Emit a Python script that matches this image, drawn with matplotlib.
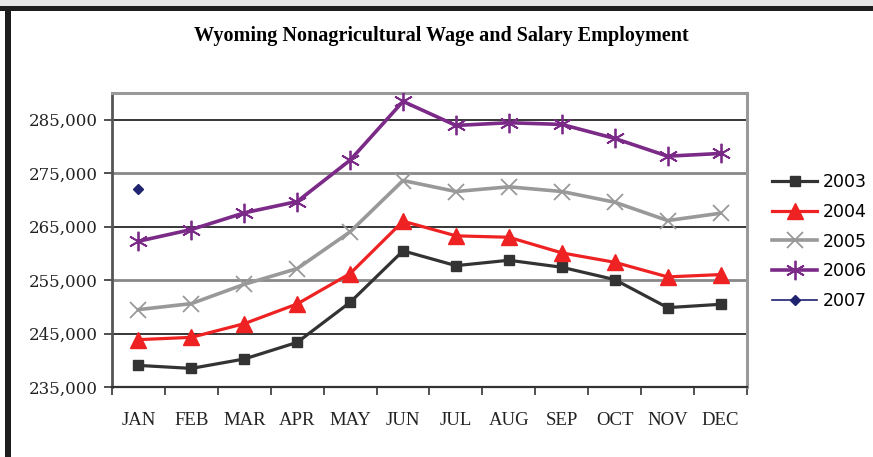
import numpy as np
import matplotlib
matplotlib.use('Agg')
import matplotlib.pyplot as plt
from matplotlib.patches import Rectangle

months = ['JAN', 'FEB', 'MAR', 'APR', 'MAY', 'JUN', 'JUL', 'AUG', 'SEP', 'OCT', 'NOV', 'DEC']
y2003 = [239040, 238480, 240240, 243350, 250840, 260470, 257700, 258710, 257400, 255090, 249850, 250470]
y2004 = [243860, 244290, 246850, 250540, 256220, 266010, 263280, 263010, 260090, 258330, 255600, 256030]
y2005 = [249480, 250600, 254210, 257150, 264030, 273630, 271570, 272450, 271570, 269570, 266140, 267510]
y2006 = [262270, 264460, 267580, 269700, 277430, 288430, 283930, 284440, 284120, 281500, 278180, 278690]
y2007 = [272130]
yticks = [235000, 245000, 255000, 265000, 275000, 285000]

fig = plt.figure(figsize=(8.73, 4.57), dpi=100)
ax = fig.add_axes([112/873, 1-387/457, (747-112)/873, (387-93)/457])

# page frame (top band + thick border)
fig.patches.append(Rectangle((0, 1-6/457), 1, 6/457, transform=fig.transFigure,
                             facecolor='#e6e6e6', edgecolor='none'))
fig.patches.append(Rectangle((0, 1-11/457), 1, 5/457, transform=fig.transFigure,
                             facecolor='#1e1e1e', edgecolor='none'))
fig.patches.append(Rectangle((5/873, 0), 6/873, 1-6/457, transform=fig.transFigure,
                             facecolor='#1e1e1e', edgecolor='none'))

x = np.arange(len(months))

# gridlines, alternating black / gray like the original
for i, v in enumerate(yticks[1:]):
    if i % 2 == 1:
        ax.axhline(v, color='#888888', lw=2.0, zorder=1)
    else:
        ax.axhline(v, color='black', lw=1.1, zorder=1)

ax.plot(x, y2003, color='#333333', lw=2.3, marker='s', ms=7.5, label='2003', zorder=3)
ax.plot(x, y2004, color='#ee2222', lw=2.3, marker='^', ms=12, label='2004', zorder=3)
ax.plot(x, y2005, color='#999999', lw=2.6, marker='x', ms=11, mew=1.3, label='2005', zorder=3)
ax.plot(x, y2006, color='#7b2a87', lw=2.6, marker=(6, 2, 0), ms=14, mew=1.3, label='2006', zorder=3)
ax.plot(x[:len(y2007)], y2007, color='#1f2370', lw=1.2, marker='D', ms=5, label='2007', zorder=3)

ax.set_xlim(-0.5, 11.5)
ax.set_ylim(235000, 290000)
ax.set_yticks(yticks)
ax.set_yticklabels(['{:,}'.format(v) for v in yticks], fontfamily='DejaVu Serif', fontsize=12, color='#222222')
ax.set_xticks(x)
ax.set_xticklabels(months, fontfamily='Liberation Serif', fontsize=13.5, color='#222222')
ax.set_xticks(np.arange(-0.5, 12, 1), minor=True)
ax.tick_params(axis='x', which='major', length=0, pad=18)
ax.tick_params(axis='x', which='minor', length=6, width=1.2, color='#333333', direction='out')
ax.tick_params(axis='y', length=6, width=1.2, color='#333333', direction='out', pad=4)

for s in ['top', 'right']:
    ax.spines[s].set_color('#999999')
    ax.spines[s].set_linewidth(2.2)
ax.spines['left'].set_color('#555555')
ax.spines['left'].set_linewidth(2.0)
ax.spines['bottom'].set_color('#333333')
ax.spines['bottom'].set_linewidth(1.6)

fig.text(441/873, 1-36/457, 'Wyoming Nonagricultural Wage and Salary Employment',
         ha='center', va='center', fontfamily='Liberation Serif', fontweight='bold',
         fontsize=14.5)

leg = fig.legend(loc='upper left', bbox_to_anchor=(765/873, 1-166/457), frameon=False,
                 prop={'family': 'DejaVu Sans', 'size': 12.5}, handlelength=2.6,
                 handletextpad=0.3, labelspacing=0.68, borderaxespad=0)

fig.savefig('out.png', dpi=100)
